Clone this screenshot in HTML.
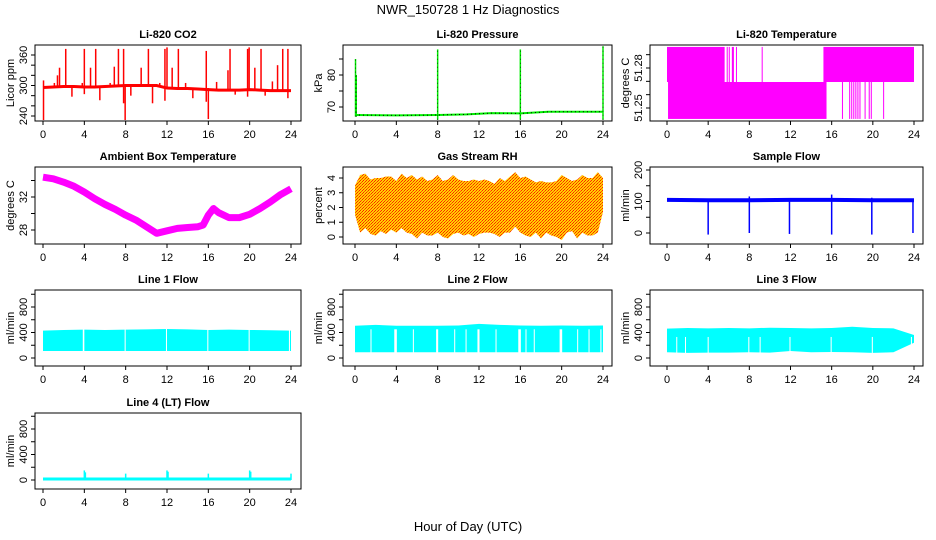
<!DOCTYPE html>
<html><head><meta charset="utf-8"><style>
html,body{margin:0;padding:0;background:#fff;}
svg{display:block;font-family:"Liberation Sans",Arial,sans-serif;}
</style></head><body>
<svg id="chart" width="936" height="540" viewBox="0 0 936 540" xmlns="http://www.w3.org/2000/svg">
<defs>
<pattern id="rhpat" width="3" height="3" patternUnits="userSpaceOnUse">
<rect width="3" height="3" fill="#ffd000"/>
<rect x="0" y="0" width="1" height="1" fill="#ff2000"/>
<rect x="2" y="1" width="1" height="1" fill="#ff2000"/>
<rect x="1" y="2" width="1" height="1" fill="#ff5000"/>
</pattern>
</defs>
<text x="468" y="14" text-anchor="middle" font-size="13">NWR_150728  1 Hz Diagnostics</text>
<text x="468" y="531" text-anchor="middle" font-size="13">Hour of Day (UTC)</text>
</svg>
<script>
// ---------- data ----------
const xTicks=[0,4,8,12,16,20,24];
// CO2
const co2BaseHours=[0,1,2,3,4,5,6,7,8,9,10,11,12,13,14,15,16,17,18,19,20,21,22,23,24];
const co2BaseVals=[296,297,298,298,297,297,298,299,300,300,300,300,295,294,294,293,292,291,291,291,292,291,290,290,290];
const co2SpikeHours=[0.05,1.1,1.4,1.6,2.2,2.8,3.8,4.0,4.6,5.1,5.5,6.5,6.9,7.3,7.8,7.95,8.5,9.5,10.2,10.6,11.3,11.8,12.0,12.5,13.1,13.8,14.5,15.8,16.0,16.8,17.9,18.1,18.6,19.8,19.95,20.5,21.1,21.5,22.2,22.7,23.2,23.7];
const co2SpikeMax=[310,305,320,335,372,297,305,372,335,372,297,305,337,372,372,300,300,335,372,300,305,372,375,335,372,305,294,368,295,307,330,372,292,372,375,335,372,292,308,340,372,372];
const co2SpikeMin=[232,297,297,297,297,278,297,283,297,297,271,297,297,299,265,232,280,300,300,265,300,270,295,294,294,294,275,268,234,291,291,291,282,278,292,291,291,280,290,290,290,275];
// Pressure
const presBaseHours=[0,4,8,10.8,13.2,16,18.7,24];
const presBaseVals=[67.5,67.4,67.5,67.7,68.1,68.0,68.5,68.5];
const presSpikeHours=[0.05,0.12,8,16,24];
const presSpikeMax=[85,80,88,88,89];
const presSpikeMin=[67,67,66,66,66];
// Li-820 temperature segments
const tempSegStart=[0,5.8,6.0,6.3,6.7,9.2,15.2,0.1,17.0,17.7,17.9,18.1,18.3,18.5,18.7,19.2,19.6,19.8,21.0];
const tempSegEnd=[5.6,5.9,6.1,6.5,6.75,9.25,24,15.5,17.05,17.8,18.0,18.2,18.4,18.6,18.8,19.25,19.7,19.9,21.05];
const tempSegLow=[51.2695,51.2695,51.2695,51.2695,51.2695,51.2695,51.2695,51.2418,51.2418,51.2418,51.2418,51.2418,51.2418,51.2418,51.2418,51.2418,51.2418,51.2418,51.2418];
const tempSegHigh=[51.2958,51.2958,51.2958,51.2958,51.2958,51.2958,51.2958,51.2695,51.2695,51.2695,51.2695,51.2695,51.2695,51.2695,51.2695,51.2695,51.2695,51.2695,51.2695];
// Ambient box temperature
const ambHours=[0,1,2,3,4,5,6,7,8,9,10,11,12,13,14,15,15.5,16,16.5,17,18,19,20,21,22,23,24];
const ambVals=[34.4,34.2,33.8,33.3,32.6,31.8,31.1,30.5,29.8,29.2,28.4,27.6,27.9,28.2,28.3,28.4,28.6,29.8,30.6,30.1,29.5,29.5,29.9,30.6,31.4,32.3,33.0];
// Gas stream RH (half-hour envelopes)
const rhHours=[0,0.5,1,1.5,2,2.5,3,3.5,4,4.5,5,5.5,6,6.5,7,7.5,8,8.5,9,9.5,10,10.5,11,11.5,12,12.5,13,13.5,14,14.5,15,15.5,16,16.5,17,17.5,18,18.5,19,19.5,20,20.5,21,21.5,22,22.5,23,23.5,24];
const rhMax=[3.5,4.2,4.3,3.9,4.0,4.0,4.1,4.1,3.8,4.3,4.0,4.2,3.9,4.1,3.8,3.9,4.2,3.8,3.9,4.2,3.9,3.8,3.8,3.9,3.8,3.9,3.8,3.6,4.0,3.8,4.1,4.4,4.0,4.1,3.9,3.7,3.8,3.7,3.7,3.8,4.2,4.0,3.8,3.9,4.2,4.0,4.0,4.4,4.0];
const rhMin=[1.5,0.3,0.6,0.2,0.1,0.4,0.2,0.5,0.3,0.6,0.3,0.2,-0.1,0.3,0.1,0.1,0.3,0.0,-0.1,0.2,0.3,0.1,0.2,0.0,0.2,0.3,0.3,0.2,0.0,0.3,0.3,0.7,0.3,0.1,0.0,0.3,-0.1,0.3,0.1,0.0,-0.2,0.3,0.4,-0.1,0.3,0.1,0.1,0.3,1.7];
// Sample flow
const sfBaseHours=[0,4,8,12,16,20,24];
const sfBaseVals=[105,104,104,105,105,104,104];
const sfDropHours=[4,8,11.9,16,19.9,23.9];
const sfDropMin=[-5,0,-3,-5,-5,0];
const sfDropMax=[108,116,110,122,112,108];
// Line 1 flow
const l1Hours=[0,2,4,6,8,10,12,14,16,18,20,22,24];
const l1Top=[430,440,445,440,445,450,455,450,440,445,440,435,430];
const l1Bottom=[110,110,110,110,110,110,110,110,110,110,110,110,110];
const l1GapStart=[3.85,7.9,11.9,15.9,19.9,23.8];
const l1GapEnd=[4.0,8.0,12.0,16.0,20.0,23.9];
// Line 2 flow
const l2Hours=[0,2,4,6,8,10,12,14,16,18,20,22,24];
const l2Top=[505,520,505,505,505,510,535,520,510,505,510,505,510];
const l2Bottom=[90,90,90,90,90,90,90,90,90,90,90,90,90];
const l2GapStart=[1.5,3.8,5.6,7.85,9.6,10.7,11.85,13.6,15.8,16.5,17.3,19.8,21.5,22.6,23.75];
const l2GapEnd=[1.55,4.05,5.65,8.05,9.65,10.75,12.05,13.65,16.05,16.55,17.35,20.05,21.55,22.65,23.8];
// Line 3 flow
const l3Hours=[0,2,4,6,8,10,12,14,16,18,20,22,24];
const l3Top=[460,470,465,470,465,475,470,465,470,490,470,465,360];
const l3Bottom=[90,80,85,85,90,85,110,90,95,90,80,90,240];
const l3GapStart=[0.9,1.75,3.95,7.9,9.0,11.9,15.9,19.9,23.7];
const l3GapEnd=[0.95,1.8,4.05,8.0,9.05,12.0,16.0,20.0,23.8];
// Line 4 flow
const l4BaseHours=[0,24];
const l4BaseVals=[15,15];
const l4SpikeHours=[4,4.1,8,12,12.1,16,20,20.1,24];
const l4SpikeMax=[150,120,100,150,130,100,150,130,100];

// ---------- layout ----------
const NS="http://www.w3.org/2000/svg";
const svg=document.getElementById('chart');
const colL=[35,343,650], colR=[301,612,923], colX0=[43,355,667], colX24=[291,603,914];
const rowT=[45,167,290,413], rowB=[121,244,366,489];
function mk(tag,attrs,parent){const e=document.createElementNS(NS,tag);for(const k in attrs)e.setAttribute(k,attrs[k]);(parent||svg).appendChild(e);return e;}

function panel(c,r,name,title,ylab,v1,p1,v2,p2,yTicks,yLabels){
  const g=mk('g',{});
  
  
  const L=colL[c],R=colR[c],T=rowT[r],B=rowB[r];
  const x=h=>colX0[c]+(colX24[c]-colX0[c])*h/24;
  const y=v=>p1+(p2-p1)*(v-v1)/(v2-v1);
  const t=mk('text',{x:(L+R)/2,y:T-7,'text-anchor':'middle','font-size':'11','font-weight':'bold'},g);
  t.textContent=title;
  
  
  const yl=mk('text',{transform:`translate(${L-21},${(T+B)/2}) rotate(-90)`,'text-anchor':'middle','font-size':'11'},g);
  yl.textContent=ylab;
  
  
  const data=mk('g',{},g);
  
  
  const box=mk('rect',{x:L,y:T,width:R-L,height:B-T,fill:'none',stroke:'#000','stroke-width':'1'},g);
  
  
  const ax=mk('g',{},g);
  
  
  xTicks.forEach(h=>{
    mk('line',{x1:x(h),x2:x(h),y1:B,y2:B+4,stroke:'#000'},ax);
    const tl=mk('text',{x:x(h),y:B+17,'text-anchor':'middle','font-size':'11'},ax);
    tl.textContent=h;
  });
  const ay=mk('g',{},g);
  
  
  mk('line',{x1:L,x2:L,y1:y(yTicks[0]),y2:y(yTicks[yTicks.length-1]),stroke:'#000'},ay);
  yTicks.forEach(v=>{mk('line',{x1:L-4,x2:L,y1:y(v),y2:y(v),stroke:'#000'},ay);});
  yLabels.forEach(v=>{
    const tl=mk('text',{transform:`translate(${L-8},${y(v)}) rotate(-90)`,'text-anchor':'middle','font-size':'11'},ay);
    tl.textContent=v;
  });
  return {x,y,g:data};
}
function polyline(p,hs,vs,attrs){return mk('polyline',Object.assign({points:hs.map((h,i)=>p.x(h)+','+p.y(vs[i])).join(' '),fill:'none'},attrs),p.g);}
function vlines(p,hs,mins,maxs,attrs){hs.forEach((h,i)=>{mk('line',Object.assign({x1:p.x(h),x2:p.x(h),y1:p.y(mins[i]),y2:p.y(maxs[i])},attrs),p.g);});}
function band(p,hs,tops,bots,fill){
  const pts=hs.map((h,i)=>p.x(h)+','+p.y(tops[i])).concat(hs.slice().reverse().map((h,j)=>{const i=hs.length-1-j;return p.x(h)+','+p.y(bots[i]);}));
  return mk('polygon',{points:pts.join(' '),fill:fill},p.g);
}
function gaps(p,starts,ends,lo,hi){starts.forEach((s,i)=>{mk('rect',{x:p.x(s),y:p.y(hi),width:Math.max(1,p.x(ends[i])-p.x(s)),height:p.y(lo)-p.y(hi),fill:'#fff'},p.g);});}

// CO2
let p=panel(0,0,'co2','Li-820 CO2','Licor ppm',240,116,360,55,[240,260,280,300,320,340,360],[240,300,360]);
polyline(p,co2BaseHours,co2BaseVals,{stroke:'#ff0000','stroke-width':'3'});
vlines(p,co2SpikeHours,co2SpikeMin,co2SpikeMax,{stroke:'#ff0000','stroke-width':'1.5'});
// Pressure
p=panel(1,0,'pressure','Li-820 Pressure','kPa',70,107,80,75,[70,75,80,85],[70,80]);
polyline(p,presBaseHours,presBaseVals,{stroke:'#00ee00','stroke-width':'2'});
polyline(p,presBaseHours,presBaseVals,{stroke:'#000','stroke-width':'1','stroke-dasharray':'1 3'});
vlines(p,presSpikeHours,presSpikeMin,presSpikeMax,{stroke:'#00ee00','stroke-width':'1.5'});
vlines(p,presSpikeHours,presSpikeMin,presSpikeMax,{stroke:'#000','stroke-width':'0.6','stroke-dasharray':'1 3'});
// Li-820 temperature
p=panel(2,0,'li820-temperature','Li-820 Temperature','degrees C',51.25,108,51.28,68,[51.25,51.26,51.27,51.28,51.29],[51.25,51.28]);
tempSegStart.forEach((s,i)=>{mk('rect',{x:p.x(s),y:p.y(tempSegHigh[i]),width:Math.max(1,p.x(tempSegEnd[i])-p.x(s)),height:p.y(tempSegLow[i])-p.y(tempSegHigh[i]),fill:'#ff00ff'},p.g);});
// Ambient
p=panel(0,1,'ambient-temperature','Ambient Box Temperature','degrees C',28,230,32,197,[28,30,32,34],[28,32]);
polyline(p,ambHours,ambVals,{stroke:'#ff00ff','stroke-width':'7','stroke-linejoin':'round'});
// RH
p=panel(1,1,'gas-stream-rh','Gas Stream RH','percent',0,237,4,178,[0,1,2,3,4],[0,1,2,3,4]);
band(p,rhHours,rhMax,rhMin,'url(#rhpat)');
// Sample flow
p=panel(2,1,'sample-flow','Sample Flow','ml/min',0,233,200,170,[0,50,100,150,200],[0,100,200]);
polyline(p,sfBaseHours,sfBaseVals,{stroke:'#0000ff','stroke-width':'4'});
vlines(p,sfDropHours,sfDropMin,sfDropMax,{stroke:'#0000ff','stroke-width':'1.5'});
const flowTicks=[0,200,400,600,800,1000], flowLabels=[0,400,800];
// Line 1
p=panel(0,2,'line1-flow','Line 1 Flow','ml/min',0,358,800,307,flowTicks,flowLabels);
band(p,l1Hours,l1Top,l1Bottom,'#00ffff');
gaps(p,l1GapStart,l1GapEnd,0,700);
// Line 2
p=panel(1,2,'line2-flow','Line 2 Flow','ml/min',0,358,800,307,flowTicks,flowLabels);
band(p,l2Hours,l2Top,l2Bottom,'#00ffff');
gaps(p,l2GapStart,l2GapEnd,0,450);
// Line 3
p=panel(2,2,'line3-flow','Line 3 Flow','ml/min',0,358,800,307,flowTicks,flowLabels);
band(p,l3Hours,l3Top,l3Bottom,'#00ffff');
gaps(p,l3GapStart,l3GapEnd,50,330);
// Line 4
p=panel(0,3,'line4-flow','Line 4 (LT) Flow','ml/min',0,480,800,429,flowTicks,flowLabels);
polyline(p,l4BaseHours,l4BaseVals,{stroke:'#00ffff','stroke-width':'3'});
vlines(p,l4SpikeHours,l4SpikeHours.map(()=>0),l4SpikeMax,{stroke:'#00ffff','stroke-width':'1.5'});
</script>
</body></html>
